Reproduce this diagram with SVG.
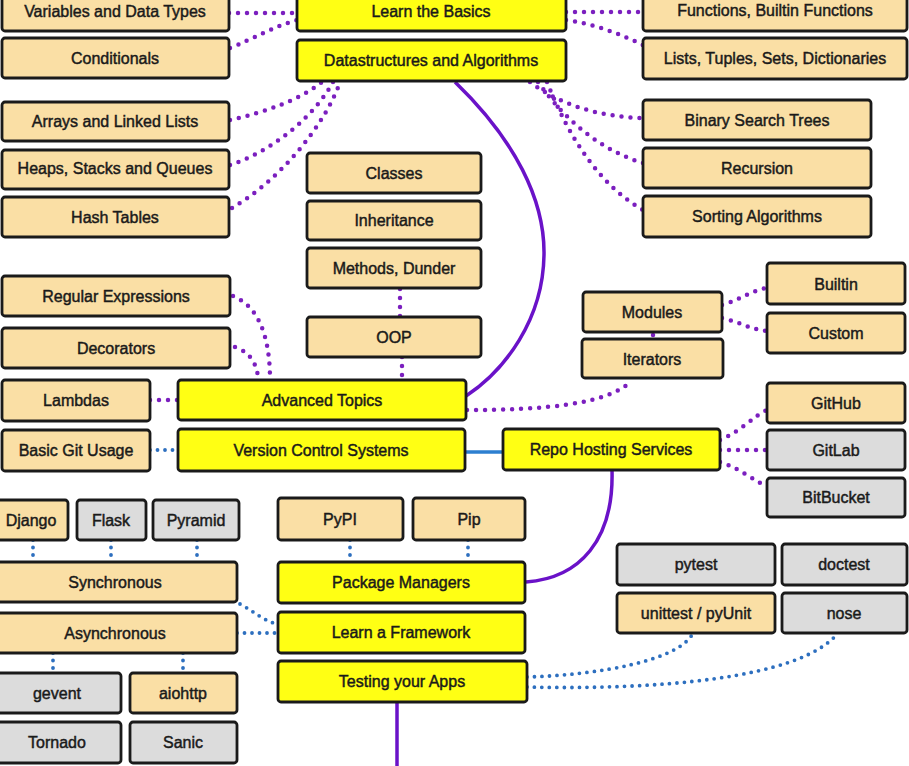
<svg xmlns="http://www.w3.org/2000/svg" width="909" height="766" viewBox="0 0 909 766">
<style>
.n rect{stroke:#1a1a1a;stroke-width:2.8;rx:3}
.y rect{fill:#FFFF14}
.b rect{fill:#FADFA5}
.g rect{fill:#DCDCDC}
.n text{font-family:"Liberation Sans",Arial,sans-serif;font-size:16px;fill:#1a1a1a;stroke:#1a1a1a;stroke-width:0.45;text-anchor:middle;dominant-baseline:central}
.pd{fill:none;stroke:#7B1FBF;stroke-width:4.5;stroke-dasharray:0 9;stroke-linecap:round}
.bd{fill:none;stroke:#2D6FBF;stroke-width:3.8;stroke-dasharray:0 7.5;stroke-linecap:round}
.ps{fill:none;stroke:#6A12C8;stroke-width:3.5}
.bs{fill:none;stroke:#2D7FD0;stroke-width:3.5}
</style>
<rect width="909" height="766" fill="#ffffff"/>
<g id="connectors">
<path class="pd" d="M229,13 L297,13"/>
<path class="pd" d="M230,48 C255,38 275,26 297,20"/>
<path class="pd" d="M566,12 L643,12"/>
<path class="pd" d="M566,20 C595,24 620,34 643,45"/>
<path class="pd" d="M230,120 C265,112 300,100 322,82"/>
<path class="pd" d="M230,165 C275,150 315,115 333,82"/>
<path class="pd" d="M232,208 C280,180 325,125 340,82"/>
<path class="pd" d="M530,82 C560,105 600,117 643,118"/>
<path class="pd" d="M538,82 C565,120 600,150 643,163"/>
<path class="pd" d="M547,82 C570,140 600,185 643,210"/>
<path class="pd" d="M400,289 L400,317"/>
<path class="pd" d="M402,357 L402,380"/>
<path class="pd" d="M233,296 C255,305 270,330 270,380"/>
<path class="pd" d="M235,347 C250,352 258,365 258,380"/>
<path class="pd" d="M150,400 L178,400"/>
<path class="pd" d="M467,410 C540,410 610,405 632,380"/>
<path class="pd" d="M653,335 L653,336"/>
<path class="pd" d="M722,305 C740,300 752,290 767,288"/>
<path class="pd" d="M722,318 C740,322 752,330 767,331"/>
<path class="pd" d="M720,440 C740,432 755,415 767,410"/>
<path class="pd" d="M720,450 L767,450"/>
<path class="pd" d="M720,462 C740,468 755,482 767,486"/>
<path class="bd" d="M150,450 L178,450"/>
<path class="bd" d="M33,540 L33,562"/>
<path class="bd" d="M111,540 L111,562"/>
<path class="bd" d="M197,540 L197,562"/>
<path class="bd" d="M53,653 L53,673"/>
<path class="bd" d="M183,653 L183,673"/>
<path class="bd" d="M350,540 L350,562"/>
<path class="bd" d="M468,540 L468,562"/>
<path class="bd" d="M240,604 C255,612 265,622 278,624"/>
<path class="bd" d="M237,633 L278,633"/>
<path class="bd" d="M527,677 C600,675 680,660 693,633"/>
<path class="bd" d="M527,687 C650,690 800,680 838,633"/>
<path class="ps" d="M455,82 C515,140 545,200 544,255 C543,320 505,370 466,396"/>
<path class="ps" d="M612,470 C614,540 580,578 526,582"/>
<path class="ps" d="M397,702 L397,766"/>
<path class="bs" d="M465,452 L503,452"/>
</g>
<g id="basics" class="n y"><rect x="297" y="-10" width="269" height="41"/><text x="431" y="11">Learn the Basics</text></g>
<g id="ds" class="n y"><rect x="297" y="40" width="269" height="41"/><text x="431" y="60">Datastructures and Algorithms</text></g>
<g id="adv" class="n y"><rect x="178" y="380" width="288" height="40"/><text x="322" y="400">Advanced Topics</text></g>
<g id="vcs" class="n y"><rect x="178" y="429" width="287" height="42"/><text x="321" y="450">Version Control Systems</text></g>
<g id="repo" class="n y"><rect x="503" y="429" width="217" height="41"/><text x="611" y="449">Repo Hosting Services</text></g>
<g id="pkg" class="n y"><rect x="278" y="562" width="247" height="41"/><text x="401" y="582">Package Managers</text></g>
<g id="fw" class="n y"><rect x="278" y="612" width="247" height="41"/><text x="401" y="632">Learn a Framework</text></g>
<g id="test" class="n y"><rect x="278" y="661" width="249" height="41"/><text x="402" y="681">Testing your Apps</text></g>
<g id="vars" class="n b"><rect x="2" y="-10" width="227" height="41"/><text x="115" y="11">Variables and Data Types</text></g>
<g id="cond" class="n b"><rect x="2" y="38" width="227" height="40"/><text x="115" y="58">Conditionals</text></g>
<g id="arr" class="n b"><rect x="2" y="102" width="227" height="39"/><text x="115" y="121">Arrays and Linked Lists</text></g>
<g id="heap" class="n b"><rect x="2" y="150" width="227" height="39"/><text x="115" y="168">Heaps, Stacks and Queues</text></g>
<g id="hash" class="n b"><rect x="2" y="197" width="227" height="40"/><text x="115" y="217">Hash Tables</text></g>
<g id="func" class="n b"><rect x="643" y="-10" width="264" height="41"/><text x="775" y="10">Functions, Builtin Functions</text></g>
<g id="lists" class="n b"><rect x="643" y="38" width="264" height="41"/><text x="775" y="58">Lists, Tuples, Sets, Dictionaries</text></g>
<g id="bst" class="n b"><rect x="643" y="100" width="228" height="40"/><text x="757" y="120">Binary Search Trees</text></g>
<g id="rec" class="n b"><rect x="643" y="148" width="228" height="40"/><text x="757" y="168">Recursion</text></g>
<g id="sort" class="n b"><rect x="643" y="196" width="228" height="41"/><text x="757" y="216">Sorting Algorithms</text></g>
<g id="classes" class="n b"><rect x="307" y="153" width="174" height="40"/><text x="394" y="173">Classes</text></g>
<g id="inherit" class="n b"><rect x="307" y="201" width="174" height="39"/><text x="394" y="220">Inheritance</text></g>
<g id="methods" class="n b"><rect x="307" y="248" width="174" height="40"/><text x="394" y="268">Methods, Dunder</text></g>
<g id="oop" class="n b"><rect x="307" y="317" width="174" height="40"/><text x="394" y="337">OOP</text></g>
<g id="regex" class="n b"><rect x="2" y="276" width="228" height="40"/><text x="116" y="296">Regular Expressions</text></g>
<g id="deco" class="n b"><rect x="2" y="328" width="228" height="40"/><text x="116" y="348">Decorators</text></g>
<g id="lambdas" class="n b"><rect x="2" y="380" width="148" height="41"/><text x="76" y="400">Lambdas</text></g>
<g id="git" class="n b"><rect x="2" y="430" width="148" height="41"/><text x="76" y="450">Basic Git Usage</text></g>
<g id="modules" class="n b"><rect x="583" y="292" width="139" height="40"/><text x="652" y="312">Modules</text></g>
<g id="iter" class="n b"><rect x="582" y="339" width="141" height="39"/><text x="652" y="359">Iterators</text></g>
<g id="builtin" class="n b"><rect x="767" y="263" width="138" height="41"/><text x="836" y="284">Builtin</text></g>
<g id="custom" class="n b"><rect x="767" y="313" width="138" height="40"/><text x="836" y="333">Custom</text></g>
<g id="github" class="n b"><rect x="767" y="383" width="138" height="40"/><text x="836" y="403">GitHub</text></g>
<g id="gitlab" class="n g"><rect x="767" y="430" width="138" height="40"/><text x="836" y="450">GitLab</text></g>
<g id="bitbucket" class="n g"><rect x="767" y="478" width="138" height="39"/><text x="836" y="497">BitBucket</text></g>
<g id="django" class="n b"><rect x="-4" y="500" width="72" height="40"/><text x="31" y="520">Django</text></g>
<g id="flask" class="n g"><rect x="77" y="500" width="69" height="40"/><text x="111" y="520">Flask</text></g>
<g id="pyramid" class="n g"><rect x="153" y="500" width="86" height="40"/><text x="196" y="520">Pyramid</text></g>
<g id="sync" class="n b"><rect x="-6" y="562" width="243" height="40"/><text x="115" y="582">Synchronous</text></g>
<g id="async" class="n b"><rect x="-6" y="613" width="243" height="40"/><text x="115" y="633">Asynchronous</text></g>
<g id="gevent" class="n g"><rect x="-6" y="673" width="127" height="40"/><text x="57" y="693">gevent</text></g>
<g id="aiohttp" class="n b"><rect x="130" y="673" width="107" height="40"/><text x="183" y="693">aiohttp</text></g>
<g id="tornado" class="n g"><rect x="-6" y="722" width="127" height="41"/><text x="57" y="742">Tornado</text></g>
<g id="sanic" class="n g"><rect x="130" y="722" width="107" height="41"/><text x="183" y="742">Sanic</text></g>
<g id="pypi" class="n b"><rect x="278" y="498" width="125" height="42"/><text x="340" y="519">PyPI</text></g>
<g id="pip" class="n b"><rect x="413" y="498" width="112" height="42"/><text x="469" y="519">Pip</text></g>
<g id="pytest" class="n g"><rect x="617" y="544" width="158" height="41"/><text x="696" y="564">pytest</text></g>
<g id="doctest" class="n g"><rect x="782" y="544" width="125" height="41"/><text x="844" y="564">doctest</text></g>
<g id="unittest" class="n b"><rect x="617" y="593" width="158" height="40"/><text x="696" y="613">unittest / pyUnit</text></g>
<g id="nose" class="n g"><rect x="782" y="593" width="125" height="40"/><text x="844" y="613">nose</text></g>
</svg>
